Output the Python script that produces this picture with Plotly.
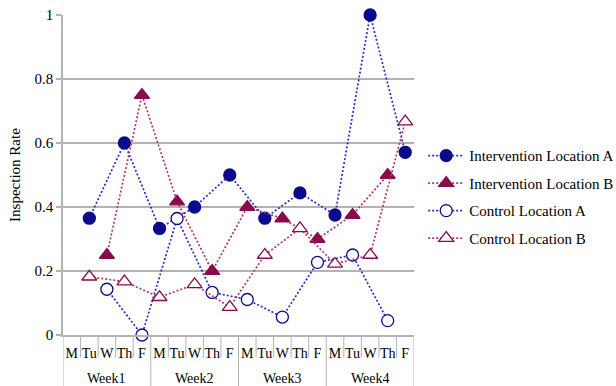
import plotly.graph_objects as go

weeks = ["Week1", "Week2", "Week3", "Week4"]
days = ["M", "Tu", "W", "Th", "F"]

# values per day slot (None = no observation)
intervention_a = [None, 0.365, None, 0.6, None,
                  0.333, None, 0.4, None, 0.5,
                  None, 0.365, None, 0.444, None,
                  0.375, None, 1.0, None, 0.571]
intervention_b = [None, None, 0.25, None, 0.75,
                  None, 0.417, None, 0.2, None,
                  0.4, None, 0.364, None, 0.3,
                  None, 0.375, None, 0.5, None]
control_a = [None, None, 0.143, None, 0.0,
             None, 0.364, None, 0.133, None,
             0.111, None, 0.056, None, 0.227,
             None, 0.25, None, 0.045, None]
control_b = [None, 0.182, None, 0.167, None,
             0.118, None, 0.158, None, 0.087,
             None, 0.25, None, 0.333, None,
             0.222, None, 0.25, None, 0.667]
y_ticks = [0, 0.2, 0.4, 0.6, 0.8, 1]
y_ticktext = ["0", "0.2", "0.4", "0.6", "0.8", "1"]

day_labels = [d for _ in weeks for d in days]
slots = list(range(len(day_labels)))

BLUE_M = "#0A0A8C"
BLUE_L = "#2B2BC4"
RED_M = "#8A0B4C"
RED_L = "#B0386A"
GRID = "#B3B3B3"
FONT = "Liberation Serif, Times New Roman, serif"
FS = 15
FSX = 14

series = [
    ("Intervention Location A", intervention_a, "circle", BLUE_M, BLUE_L, BLUE_M),
    ("Intervention Location B", intervention_b, "triangle-up", RED_M, RED_L, RED_M),
    ("Control Location A", control_a, "circle", "white", BLUE_L, BLUE_M),
    ("Control Location B", control_b, "triangle-up", "white", RED_L, RED_M),
]

fig = go.Figure()
for i, (name, vals, sym, fill, lcol, mline) in enumerate(series):
    fig.add_trace(go.Scatter(
        x=slots, y=vals, name=name, mode="lines+markers",
        connectgaps=True, legendgroup=f"g{i}", cliponaxis=False,
        line=dict(color=lcol, width=1.7, dash="2px,2px"),
        marker=dict(symbol=sym, size=12 if sym == "circle" else 13, color=fill,
                    line=dict(color=mline, width=1.3)),
    ))

n = len(day_labels)
# day / week separators below the axis
for b in range(n + 1):
    is_week = (b % len(days) == 0)
    fig.add_shape(type="line", xref="x", yref="paper",
                  x0=b - 0.5, x1=b - 0.5, y0=0,
                  y1=-0.17 if is_week else -0.07,
                  line=dict(color=GRID, width=1), layer="below")
# week labels
for w_i, w in enumerate(weeks):
    fig.add_annotation(x=w_i * len(days) + (len(days) - 1) / 2, y=-0.135,
                       xref="x", yref="paper", text=w, showarrow=False,
                       yanchor="middle", font=dict(family=FONT, size=FSX))
# y-axis title
fig.add_annotation(x=-0.137, y=0.5, xref="paper", yref="paper",
                   text="Inspection Rate", textangle=-90, showarrow=False,
                   xanchor="center", yanchor="middle",
                   font=dict(family=FONT, size=FS))

fig.update_layout(
    width=616, height=386,
    margin=dict(l=63, r=202, t=15, b=51),
    paper_bgcolor="white", plot_bgcolor="white",
    font=dict(family=FONT, size=FS, color="black"),
    showlegend=True,
    legend=dict(xref="container", yref="container",
                x=0.687, xanchor="left", y=0.49, yanchor="middle",
                tracegroupgap=5, font=dict(family=FONT, size=FS),
                itemwidth=36, bgcolor="rgba(0,0,0,0)"),
    yaxis=dict(range=[0, 1], tickvals=y_ticks, ticktext=y_ticktext,
               showgrid=True, gridcolor=GRID, gridwidth=1.5,
               ticks="outside", ticklen=5, tickcolor=GRID, tickwidth=1.5,
               showline=True, linecolor=GRID, linewidth=1.5,
               zeroline=False, automargin=False),
    xaxis=dict(range=[-0.5, n - 0.5], tickvals=slots, ticktext=day_labels,
               tickangle=0, showgrid=False, ticks="", ticklabelstandoff=4,
               tickfont=dict(family=FONT, size=FSX),
               showline=True, linecolor=GRID, linewidth=1.5,
               zeroline=False, automargin=False),
)

fig.write_html("out.html", config={"displayModeBar": False},
               post_script="document.body.style.margin='0';document.body.style.padding='0';")
